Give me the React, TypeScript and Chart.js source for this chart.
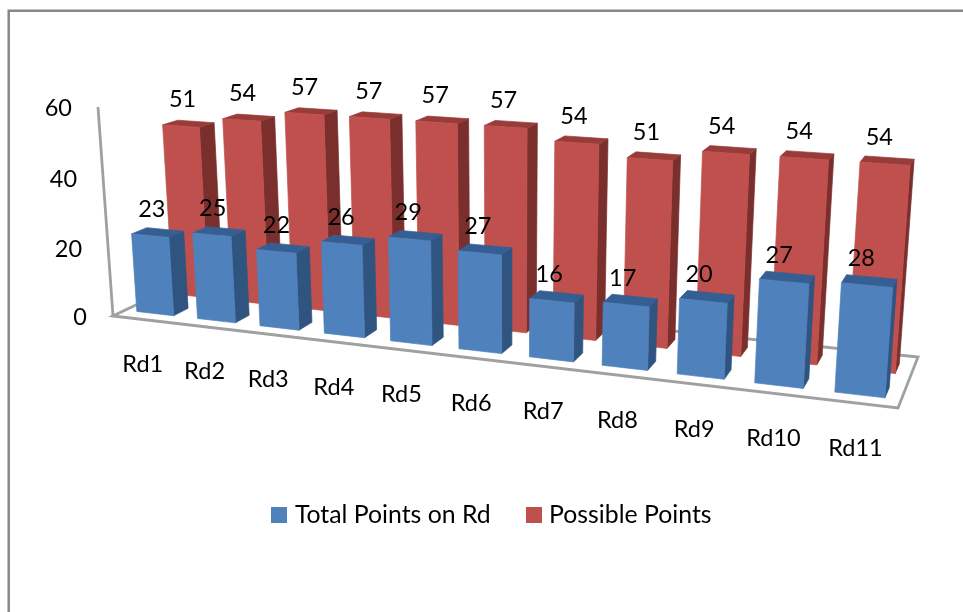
import { useEffect, useRef } from "react";
import { Chart, BarController, BarElement, registerables } from "chart.js";

const categories = ["Rd1", "Rd2", "Rd3", "Rd4", "Rd5", "Rd6", "Rd7", "Rd8", "Rd9", "Rd10", "Rd11"];
const totalPoints = [23, 25, 22, 26, 29, 27, 16, 17, 20, 27, 28];
const possiblePoints = [51, 54, 57, 57, 57, 57, 54, 51, 54, 54, 54];

const FONT = { family: "Lato, sans-serif", size: 23.5 };
const LEGEND_FONT = { family: "Lato, sans-serif", size: 24.8 };

// Floor corners on screen, then the point where verticals converge.
const FLOOR = [[113, 316], [898, 408], [918, 357], [189.1, 279.4]];
const VANISH = [506, 5791];
const RISE = -0.03677;

function buildProjection() {
  const [[x0, y0], [x1, y1], [x2, y2], [x3, y3]] = FLOOR;
  const dx1 = x1 - x2, dx2 = x3 - x2, sx = x0 - x1 + x2 - x3;
  const dy1 = y1 - y2, dy2 = y3 - y2, sy = y0 - y1 + y2 - y3;
  const den = dx1 * dy2 - dx2 * dy1;
  const g = (sx * dy2 - dx2 * sy) / den;
  const h = (dx1 * sy - sx * dy1) / den;
  const a = x1 - x0 + g * x1, b = x3 - x0 + h * x3;
  const d = y1 - y0 + g * y1, e = y3 - y0 + h * y3;
  return (u: number, v: number, z: number) => {
    const w = g * u + h * z + 1 + RISE * v;
    return [
      (a * u + b * z + x0 + RISE * VANISH[0] * v) / w,
      (d * u + e * z + y0 + RISE * VANISH[1] * v) / w,
    ];
  };
}
const world = buildProjection();

// Maps scale pixels from the flat chart area into the perspective view.
function project(chart: any, px: number, py: number, z: number) {
  const { left, width, bottom, height } = chart.chartArea;
  return world((px - left) / width, (bottom - py) / height, z);
}

function face(ctx: CanvasRenderingContext2D, pts: number[][], color: string) {
  ctx.beginPath();
  pts.forEach(([x, y], i) => (i ? ctx.lineTo(x, y) : ctx.moveTo(x, y)));
  ctx.closePath();
  ctx.fillStyle = color;
  ctx.fill();
  ctx.strokeStyle = color;
  ctx.lineWidth = 0.7;
  ctx.stroke();
}

class Bar3DElement extends BarElement {
  static id = "bar3d";
  draw(ctx: CanvasRenderingContext2D) {
    const self = this as any;
    const chart = self.owner.chart;
    const dataset = self.owner.getDataset();
    const { x, y, base, width } = self.getProps(["x", "y", "base", "width"]);
    const l = x - width / 2, r = x + width / 2;
    const [zf, zb] = dataset.depth;
    const p = (px: number, py: number, z: number) => project(chart, px, py, z);
    ctx.save();
    face(ctx, [p(r, base, zf), p(r, base, zb), p(r, y, zb), p(r, y, zf)], dataset.sideColor);
    face(ctx, [p(l, y, zf), p(r, y, zf), p(r, y, zb), p(l, y, zb)], dataset.topColor);
    face(ctx, [p(l, base, zf), p(r, base, zf), p(r, y, zf), p(l, y, zf)], self.options.backgroundColor);
    ctx.restore();
  }
}

class Bar3DController extends BarController {
  static id = "bar3d";
  static defaults = { dataElementType: "bar3d" };
  draw() {
    // Each bar needs the chart area and its dataset's depth range when it paints.
    (this as any)._cachedMeta.data.forEach((el: any) => (el.owner = this));
    super.draw();
  }
}

Chart.register(...registerables, Bar3DElement, Bar3DController);

function swatch(color: string) {
  const c = document.createElement("canvas");
  c.width = 16;
  c.height = 16;
  const g = c.getContext("2d")!;
  g.fillStyle = color;
  g.fillRect(0, 0, 16, 16);
  return c;
}

const framePlugin = {
  id: "frame",
  beforeDraw(chart: any) {
    const { ctx, width, height } = chart;
    ctx.save();
    ctx.strokeStyle = "#888888";
    ctx.lineWidth = 2.5;
    ctx.beginPath();
    ctx.moveTo(8.7, height);
    ctx.lineTo(8.7, 10.7);
    ctx.lineTo(width, 10.7);
    ctx.stroke();
    ctx.restore();
  },
};

const axesPlugin = {
  id: "axes3d",
  beforeDatasetsDraw(chart: any) {
    const { ctx, chartArea: a, scales } = chart;
    ctx.save();
    ctx.strokeStyle = "#a0a0a0";
    ctx.lineWidth = 2.8;
    ctx.lineJoin = "miter";
    const corners = [
      project(chart, a.left, a.bottom, 0),
      project(chart, a.right, a.bottom, 0),
      project(chart, a.right, a.bottom, 1),
      project(chart, a.left, a.bottom, 1),
    ];
    ctx.beginPath();
    corners.forEach(([x, y], i) => (i ? ctx.lineTo(x, y) : ctx.moveTo(x, y)));
    ctx.closePath();
    ctx.stroke();
    const top = project(chart, a.left, scales.y.getPixelForValue(scales.y.max), 0);
    ctx.beginPath();
    ctx.moveTo(corners[0][0], corners[0][1]);
    ctx.lineTo(top[0], top[1]);
    ctx.stroke();

    ctx.fillStyle = "#000";
    ctx.font = `${FONT.size}px ${FONT.family}`;
    ctx.textBaseline = "middle";
    ctx.textAlign = "right";
    scales.y.ticks.forEach((t: any) => {
      const [x, y] = project(chart, a.left, scales.y.getPixelForValue(t.value), 0);
      ctx.fillText(t.label, x - 26, y + 1);
    });
    ctx.textAlign = "center";
    scales.x.ticks.forEach((t: any, i: number) => {
      const [x, y] = project(chart, scales.x.getPixelForTick(i), a.bottom, 0);
      ctx.fillText(t.label, x - 0.5, y + 45);
    });
    ctx.restore();
  },
};

const valueLabelPlugin = {
  id: "valueLabels",
  afterDatasetsDraw(chart: any) {
    const { ctx, chartArea: a } = chart;
    ctx.save();
    ctx.fillStyle = "#000";
    ctx.font = `${FONT.size}px ${FONT.family}`;
    ctx.textAlign = "center";
    ctx.textBaseline = "middle";
    chart.data.datasets.forEach((ds: any, di: number) => {
      chart.getDatasetMeta(di).data.forEach((el: any, i: number) => {
        const [x, y] = project(chart, el.x, el.y, ds.depth[0]);
        const drift = 2 - (8 * (el.x - a.left)) / a.width;
        ctx.fillText(String(ds.data[i]), x + drift, y - 26.5);
      });
    });
    ctx.restore();
  },
};

export default function App() {
  const ref = useRef<HTMLCanvasElement>(null);
  useEffect(() => {
    document.body.style.margin = "0";
    const chart = new Chart(ref.current!, {
      type: "bar3d" as any,
      data: {
        labels: categories,
        datasets: [
          {
            label: "Total Points on Rd",
            data: totalPoints,
            backgroundColor: "#4F81BD",
            sideColor: "#2F5480",
            topColor: "#355F92",
            depth: [0.15, 0.34],
            clip: false,
          },
          {
            label: "Possible Points",
            data: possiblePoints,
            backgroundColor: "#C0504D",
            sideColor: "#7B2F2D",
            topColor: "#983C3A",
            depth: [0.62, 0.82],
            clip: false,
          },
        ] as any,
      },
      options: {
        animation: false,
        responsive: false,
        layout: { padding: { left: 25, bottom: 75 } },
        datasets: { bar3d: { grouped: false, barPercentage: 0.61, categoryPercentage: 1 } } as any,
        scales: {
          x: { display: false },
          y: { display: false, min: 0, max: 60, ticks: { stepSize: 20 } },
        },
        plugins: {
          tooltip: { enabled: false },
          legend: {
            position: "bottom",
            labels: {
              color: "#000",
              font: LEGEND_FONT,
              usePointStyle: true,
              pointStyleWidth: 6,
              padding: 40,
              generateLabels: (c: any) =>
                c.data.datasets.map((d: any, i: number) => ({
                  text: d.label,
                  pointStyle: swatch(d.backgroundColor),
                  datasetIndex: i,
                  fontColor: "#000",
                  hidden: false,
                })),
            },
          },
        },
      },
      plugins: [framePlugin, axesPlugin, valueLabelPlugin],
    });
    return () => chart.destroy();
  }, []);
  return <canvas ref={ref} width={963} height={612} style={{ display: "block" }} />;
}
